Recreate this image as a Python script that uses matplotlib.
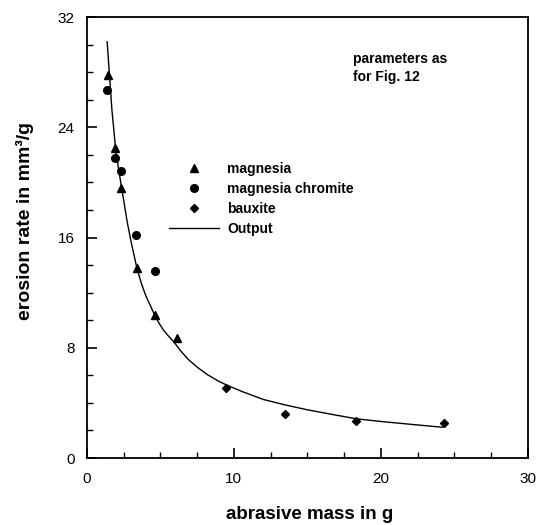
import matplotlib
matplotlib.use("Agg")
import matplotlib.pyplot as plt
from matplotlib.ticker import MultipleLocator

plt.rcParams['font.family'] = ['Liberation Sans', 'DejaVu Sans']

magnesia_x = [1.45, 1.90, 2.33, 3.40, 4.63, 6.10]
magnesia_y = [27.8, 22.5, 19.6, 13.8, 10.4, 8.7]

chromite_x = [1.38, 1.90, 2.31, 3.35, 4.61]
chromite_y = [26.7, 21.8, 20.8, 16.2, 13.6]

bauxite_x = [9.46, 13.5, 18.3, 24.3]
bauxite_y = [5.07, 3.2, 2.67, 2.57]

# model output curve
output_x = [1.38, 1.55, 1.70, 1.95, 2.15, 2.35, 2.55, 2.75, 2.95, 3.15, 3.40,
            3.70, 4.00, 4.30, 4.60, 4.90, 5.20, 5.55, 5.90, 6.40, 6.90, 7.50,
            8.20, 9.00, 9.50, 10.5, 12.0, 13.5, 15.0, 16.5, 18.3, 20.0, 22.0, 24.2]
output_y = [30.2, 27.6, 25.3, 22.5, 21.0, 19.7, 18.4, 17.1, 16.0, 15.0, 13.8,
            12.7, 11.8, 11.1, 10.4, 9.8, 9.3, 8.85, 8.45, 7.75, 7.15, 6.6,
            6.05, 5.55, 5.3, 4.85, 4.25, 3.85, 3.5, 3.2, 2.85, 2.65, 2.45, 2.23]

fig = plt.figure(figsize=(5.43, 5.25), dpi=100)
ax = fig.add_axes([0.160, 0.1276, 0.812, 0.840])

ax.plot(magnesia_x, magnesia_y, '^', color='black', ms=6, label='magnesia')
ax.plot(chromite_x, chromite_y, 'o', color='black', ms=5.5, label='magnesia chromite')
ax.plot(bauxite_x, bauxite_y, 'D', color='black', ms=4.5, label='bauxite')
ax.plot(output_x, output_y, '-', color='black', lw=1.0, label='Output')

ax.set_xlim(0, 30)
ax.set_ylim(0, 32)
ax.xaxis.set_major_locator(MultipleLocator(10))
ax.xaxis.set_minor_locator(MultipleLocator(2.5))
ax.yaxis.set_major_locator(MultipleLocator(8))
ax.yaxis.set_minor_locator(MultipleLocator(2))
ax.tick_params(which='both', direction='in', top=False, right=False, labelsize=11)
ax.tick_params(axis='y', which='major', length=7, width=1.2, pad=9)
ax.tick_params(axis='x', which='major', length=7, width=1.2, pad=10)
ax.tick_params(which='minor', length=4, width=1.0)
for s in ax.spines.values():
    s.set_linewidth(1.3)

ax.set_xlabel('abrasive mass in g', fontsize=13.5, fontweight='bold')
ax.set_ylabel('erosion rate in mm³/g', fontsize=14, fontweight='bold')
ax.xaxis.set_label_coords(0.506, -0.129)
ax.xaxis.label.set_va('center')
ax.yaxis.set_label_coords(-0.141, 0.537)
ax.yaxis.label.set_va('center')

ax.text(0.604, 0.92, 'parameters as\nfor Fig. 12', transform=ax.transAxes,
        fontsize=10, fontweight='bold', va='top', ha='left', linespacing=1.3)

leg = ax.legend(loc='upper left', bbox_to_anchor=(0.17, 0.688), frameon=False,
                handlelength=3.6, handletextpad=0.6, labelspacing=0.45,
                borderpad=0, prop={'weight': 'bold', 'size': 10})

fig.savefig('out.png', dpi=100)
